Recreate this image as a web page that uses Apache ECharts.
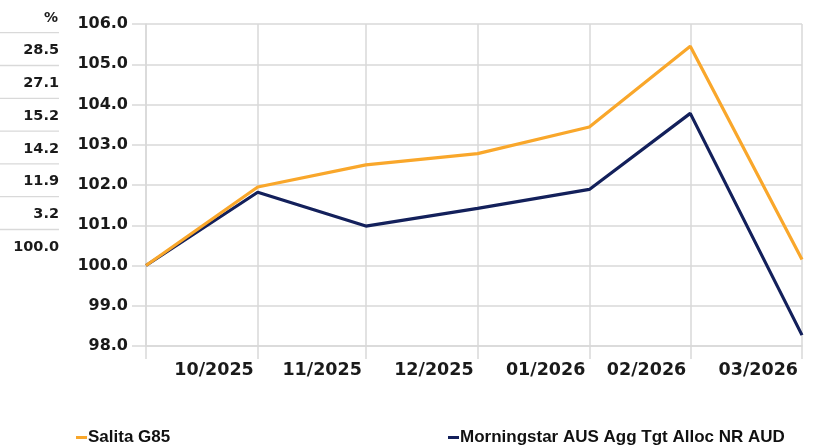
<!DOCTYPE html>
<html>
<head>
<meta charset="utf-8">
<script src="https://cdn.jsdelivr.net/npm/echarts@6/dist/echarts.min.js"></script>
<style>
html,body{margin:0;padding:0;background:#fff;}
#chart{width:814px;height:447px;}
</style>
</head>
<body>
<div id="chart"></div>
<script>
// ---- data ----
const dates = ['2025-09-30','2025-10-31','2025-11-30','2025-12-31','2026-01-31','2026-02-28','2026-03-31'];
const tickLabels = ['', '10/2025', '11/2025', '12/2025', '01/2026', '02/2026', '03/2026'];
const salitaName = 'Salita G85';
const benchName = 'Morningstar AUS Agg Tgt Alloc NR AUD';
const salitaValues = [100.0, 101.95, 102.5, 102.78, 103.44, 105.45, 100.15];
const benchValues = [100.0, 101.82, 100.98, 101.42, 101.89, 103.78, 98.27];
const yMin = 98, yMax = 106, yStep = 1;
const tableHeader = '%';
const tableValues = ['28.5', '27.1', '15.2', '14.2', '11.9', '3.2', '100.0'];

// ---- build ----
const DAY = 86400000;
const t0 = Date.parse(dates[0] + 'T00:00:00Z');
const days = dates.map(d => Math.round((Date.parse(d + 'T00:00:00Z') - t0) / DAY));
const labelFor = {};
days.forEach((d, i) => { labelFor[d] = tickLabels[i]; });

const GRID = '#d9d9d9';
const TEXT = '#1a1a1a';
const ORANGE = '#f9a72b';
const NAVY = '#13205b';

const graphics = [];
graphics.push({
  type: 'text', x: 58, y: 18,
  style: { text: tableHeader, align: 'right', verticalAlign: 'middle',
    font: 'bold 14px "DejaVu Sans"', fill: TEXT }
});
tableValues.forEach((v, i) => {
  const sepY = 32.7 + i * 32.8;
  graphics.push({
    type: 'line', shape: { x1: 0, y1: sepY, x2: 59, y2: sepY },
    style: { stroke: GRID, lineWidth: 1.3 }
  });
  graphics.push({
    type: 'text', x: 59, y: 50.5 + i * 32.8,
    style: { text: v, align: 'right', verticalAlign: 'middle',
      font: 'bold 14.5px "DejaVu Sans"', fill: TEXT }
  });
});

const legendBase = {
  icon: 'rect', itemWidth: 11, itemHeight: 3, top: 429, padding: 0,
  textStyle: { fontFamily: '"Liberation Sans", Arial, sans-serif',
    fontSize: 17, lineHeight: 17, fontWeight: 'bold', color: '#111', padding: [0, 0, 0, -4] }
};

const chart = echarts.init(document.getElementById('chart'), null, { renderer: 'canvas' });
chart.setOption({
  animation: false,
  backgroundColor: '#fff',
  grid: { left: 146, right: 12, top: 24, bottom: 101 },
  legend: [
    Object.assign({}, legendBase, { left: 76, data: [salitaName] }),
    Object.assign({}, legendBase, { left: 448, data: [benchName] })
  ],
  xAxis: {
    type: 'value', min: 0, max: days[days.length - 1],
    axisLine: { show: true, lineStyle: { color: GRID, width: 1.5 } },
    axisTick: { show: true, length: 13, customValues: days, lineStyle: { color: GRID, width: 1.5 } },
    splitLine: { show: true, lineStyle: { color: GRID, width: 1.5 } },
    axisLabel: {
      customValues: days.slice(1),
      formatter: v => labelFor[v] || '',
      align: 'right', padding: [0, 4, 0, 0], margin: 15,
      fontFamily: '"DejaVu Sans"', fontWeight: 'bold', fontSize: 17.5, color: TEXT
    }
  },
  yAxis: {
    type: 'value', min: yMin, max: yMax, interval: yStep,
    axisLine: { show: true, lineStyle: { color: GRID, width: 1.5 } },
    axisTick: { show: true, inside: false, length: 14, lineStyle: { color: GRID, width: 1.5 } },
    splitLine: { show: true, lineStyle: { color: GRID, width: 1.5 } },
    axisLabel: {
      formatter: v => v.toFixed(1), margin: 18,
      fontFamily: '"DejaVu Sans"', fontWeight: 'bold', fontSize: 16, color: TEXT
    }
  },
  graphic: graphics,
  series: [
    {
      name: benchName, type: 'line', showSymbol: false, symbol: 'none',
      color: NAVY, lineStyle: { width: 3.2, color: NAVY },
      data: days.map((d, i) => [d, benchValues[i]]), z: 3
    },
    {
      name: salitaName, type: 'line', showSymbol: false, symbol: 'none',
      color: ORANGE, lineStyle: { width: 3.2, color: ORANGE },
      data: days.map((d, i) => [d, salitaValues[i]]), z: 4
    }
  ]
});
</script>
</body>
</html>
